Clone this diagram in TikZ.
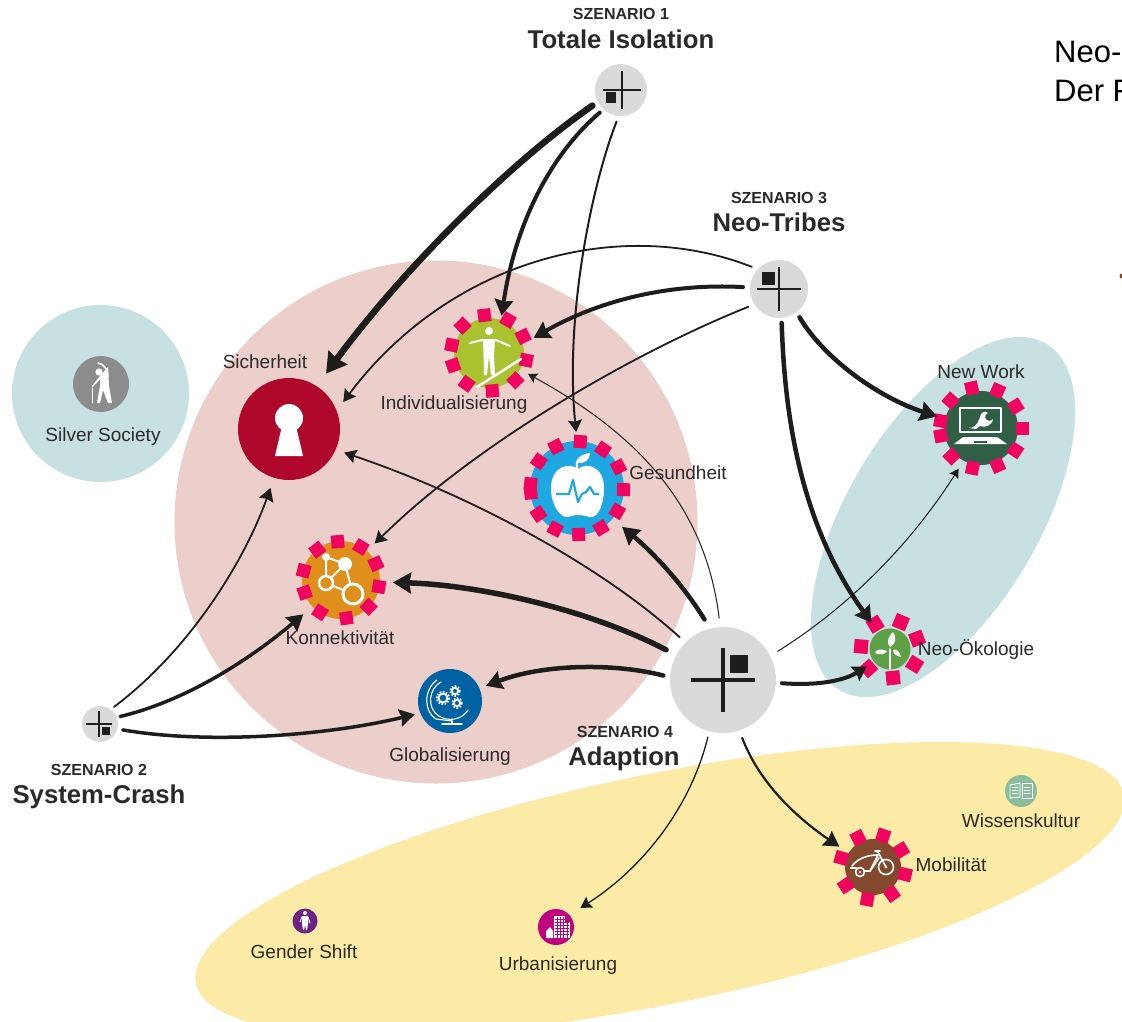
\documentclass[tikz,border=0pt]{standalone}
\usepackage{fontspec}
\setmainfont{Liberation Sans}
\usetikzlibrary{arrows.meta}
\definecolor{tint}{HTML}{C7E0E2}
\definecolor{rose}{HTML}{ECCFCB}
\definecolor{sand}{HTML}{FBEBA6}
\definecolor{ink}{HTML}{1D1D1B}
\definecolor{txt}{HTML}{2B2A29}
\definecolor{greyc}{HTML}{D9DADA}
\definecolor{spike}{HTML}{F0045F}
\definecolor{cred}{HTML}{B0082B}
\definecolor{cblue}{HTML}{1EA7E0}
\definecolor{cgold}{HTML}{DF8F1B}
\definecolor{clime}{HTML}{A9C230}
\definecolor{cforest}{HTML}{2F6045}
\definecolor{cleaf}{HTML}{5DA046}
\definecolor{cbrown}{HTML}{84482E}
\definecolor{cglobe}{HTML}{0061A3}
\definecolor{cmag}{HTML}{BF007F}
\definecolor{cpurp}{HTML}{6E2286}
\definecolor{cmint}{HTML}{8BBD9D}
\definecolor{cgrey}{HTML}{8C8C8C}
\tikzset{
  disk/.style={circle,inner sep=0pt,outer sep=0pt,draw=none},
  lab/.style={anchor=base,inner sep=0pt,text=txt,font=\fontsize{19}{22}\selectfont},
  kick/.style={anchor=base,inner sep=0pt,text=txt,font=\fontsize{16}{18}\selectfont\bfseries},
  head/.style={anchor=base,inner sep=0pt,text=txt,font=\fontsize{25.7}{28}\selectfont\bfseries},
  note/.style={anchor=base west,inner sep=0pt,text=black,font=\fontsize{31}{36}\selectfont},
  conn/.style n args={2}{draw=ink,line width=#1,line cap=round,-{Stealth[length=#2,width'=0pt 1.15,inset=1.5pt]}},
  wl/.style={draw=white,line cap=round,line join=round},
  scn/.style={draw=ink,line width=#1},
}
\newcommand\spikes[5]{\foreach \a in {#5}{\fill[spike,shift={(#1,#2)},rotate=\a] ({#3-#4/2},{-#4/2}) rectangle ({#3+#4/2},{#4/2});}}
\newcommand\cross[4]{% x y halflength width
  \draw[scn=#4] (#1-#3,#2) -- (#1+#3,#2);
  \draw[scn=#4] (#1,#2-#3) -- (#1,#2+#3);
}
\begin{document}
\begin{tikzpicture}[x=1pt,y=-1pt]
\useasboundingbox (0,0) rectangle (1122,1021);
\clip (0,0) rectangle (1122,1021);
% regions
\fill[rose] (436,522) circle (261.5);
\fill[tint] (100.5,393.5) circle (88.5);
\fill[tint,shift={(943,517)},rotate=59.2] (0,0) ellipse (201.7 and 95.7);
\fill[sand,shift={(660,889)},rotate=11.5] (0,0) ellipse (473.5 and 115);
% scenario nodes
\node[disk,fill=greyc,minimum size=52pt] (s1) at (621,90) {};
\node[disk,fill=greyc,minimum size=58pt] (s3) at (779,289) {};
\node[disk,fill=greyc,minimum size=106pt] (s4) at (723,680) {};
\node[disk,fill=greyc,minimum size=36pt] (s2) at (100,724) {};
\cross{622}{90}{19}{1.8}
\fill[ink] (606,92) rectangle (616,103);
\cross{779}{289}{22}{2}
\fill[ink] (762,272) rectangle (775,285);
\cross{723}{680}{32}{4}
\fill[ink] (730,655) rectangle (748,673);
\cross{99}{724}{13}{1.6}
\fill[ink] (102,727) rectangle (110,735);
% topic nodes
\node[disk,fill=cred,minimum size=102pt] (sich) at (289,429) {};
\node[disk,fill=clime,minimum size=70pt] (indi) at (489,353) {};
\node[disk,fill=cblue,minimum size=94pt] (ges) at (577,488) {};
\node[disk,fill=cgold,minimum size=78pt] (konn) at (341,580) {};
\node[disk,fill=cforest,minimum size=74pt] (nw) at (981,428) {};
\node[disk,fill=cleaf,minimum size=41pt] (oeko) at (890,649) {};
\node[disk,fill=cbrown,minimum size=56pt] (mob) at (873,867) {};
\node[disk,fill=cglobe,minimum size=64pt] (glob) at (450,701) {};
\node[disk,fill=cmag,minimum size=36pt] (urb) at (556,927) {};
\node[disk,fill=cpurp,minimum size=25pt] (gend) at (305,921) {};
\node[disk,fill=cmint,minimum size=32pt] (wiss) at (1021,791) {};
\node[disk,fill=cgrey,minimum size=56pt] (silv) at (101,384) {};
% spikes
\spikes{489}{353}{38}{13}{97,60,26,-11,-46,-85,-126,-161,168,134}
\spikes{577}{488}{46.5}{13}{86,56,27,-2,-30,-59,-88,-118,-146,175,186,145,117}
\spikes{341}{580}{38.5}{13}{95,59,25,-10,-44,-82,-123,-161,166,128}
\spikes{981}{428}{41}{13}{103,66,32,0,-33,-66,-102,-136,170,191,138}
\spikes{890}{649}{29}{14}{121,68,21,-32,-84,-138,175}
\spikes{873}{867}{33}{13}{72,31,-13,-55,-100,-146,164,117}
% icons
\fill[white] (289,418) circle (14);
\fill[white] (282,426) -- (296,426) -- (303,456) -- (275,456) -- cycle;
% walker
\fill[white] (489,331) circle (4);
\draw[wl,line width=2] (470,343) -- (482,340) -- (496,340) -- (510,346);
\fill[white] (483,339) -- (495,339) -- (494,356) -- (495,375) -- (491,375) -- (489,356) -- (487,375) -- (484,375) -- cycle;
\draw[wl,line width=2.5] (477,387) -- (521,359);
% apple
\fill[white] (578,469) .. controls (570,462) and (551,466) .. (551,488) .. controls (551,505) and (560,518) .. (568,517) .. controls (572,516) and (574,515) .. (578,515) .. controls (582,515) and (586,516) .. (590,517) .. controls (598,518) and (604,505) .. (604,488) .. controls (604,466) and (586,462) .. (578,469) -- cycle;
\fill[white] (576,468) .. controls (574,458) and (582,454) .. (590,453) .. controls (590,460) and (584,464) .. (578,463) -- (578,469) -- cycle;
\draw[draw=cblue,line width=2.2,line join=round] (556,494) -- (569,494) -- (573,480) -- (578,502) -- (582,494) -- (586,492) -- (590,487) -- (594,494) -- (599,494);
% network
\draw[wl,line width=2] (326,557) -- (345,564) -- (326,583) -- (326,557);
\draw[wl,line width=2] (345,564) -- (353,594) -- (326,583);
\fill[white] (326,557) circle (4);
\fill[white] (345,564) circle (7);
\draw[wl,line width=2.5,fill=cgold] (326,583) circle (7);
\draw[wl,line width=3,fill=cgold] (353,594) circle (10);
% laptop
\draw[wl,line width=1.5] (960,408) rectangle (1001,432);
\fill[white] (963,437) -- (997,437) -- (1007,444) -- (954,444) -- cycle;
\fill[cforest] (974,441) rectangle (987,443);
\fill[white] (969,428) .. controls (977,428) and (979,420) .. (981,414) .. controls (984,411) and (987,411) .. (988,413) .. controls (984,414) and (984,420) .. (989,421) .. controls (991,421) and (992,420) .. (993,419) .. controls (992,426) and (984,428) .. (980,426) -- (976,429) -- cycle;
% turbine
\draw[wl,line width=1.4] (890,649) -- (890,669);
\fill[white] (890,647) .. controls (885,641) and (890,635) .. (893,632) .. controls (897,637) and (896,644) .. (890,647) -- cycle;
\fill[white] (887,651) .. controls (881,648) and (875,650) .. (875,653) .. controls (879,655) and (885,655) .. (887,651) -- cycle;
\fill[white] (893,650) .. controls (896,648) and (900,652) .. (901,657) .. controls (897,656) and (893,654) .. (893,650) -- cycle;
% bike
\draw[wl,line width=1.6] (886,867) circle (7.5);
\fill[white] (886,867) circle (1.5);
\draw[wl,line width=1.6] (860,872) circle (4.5);
\fill[white] (860,872) circle (1.2);
\draw[wl,line width=1.6] (886,867) -- (878,852) -- (875,851) -- (880,851);
\draw[wl,line width=1.6] (852,866) .. controls (858,858) and (868,855) .. (878,855) -- (870,871) -- (864,871);
\draw[wl,line width=1.6] (879,858) -- (870,871);
\draw[wl,line width=2.5] (851,868) -- (856,868);
% globe
\draw[wl,line width=1.1] (441,682) .. controls (429,688) and (426,708) .. (439,716) .. controls (448,722) and (462,720) .. (468,710);
\draw[wl,line width=1.1] (437,680) .. controls (423,690) and (424,712) .. (436,719) -- (452,721);
\draw[wl,line width=1.4] (442,724) -- (462,724);
\draw[wl,line width=1.4] (452,721) -- (452,724);
\foreach \gx/\gy/\gr in {443/698/4.5, 455/691/3.2, 457/703/3.2}{
  \draw[wl,line width=1.8] (\gx,\gy) circle (\gr);
  \draw[draw=white,line width=1.8,dash pattern=on 1.6pt off 1.6pt] (\gx,\gy) circle (\gr+1.7);
}
% building
\fill[white] (554,916) rectangle (565,938);
\fill[white] (565,922) rectangle (570,938);
\fill[white] (546,938) -- (546,931) -- (550,927) -- (553,931) -- (553,938) -- cycle;
\foreach \ry in {919,922,925,928,931,934}{\draw[cmag,line width=0.7] (555,\ry) -- (569,\ry);}
\foreach \rx in {557,560,563,567}{\draw[cmag,line width=0.7] (\rx,917) -- (\rx,938);}
% person
\fill[white] (305,913) circle (2);
\fill[white] (302,916) -- (308,916) -- (308,924) -- (307,930) -- (306,930) -- (305,925) -- (304,930) -- (303,930) -- (302,924) -- cycle;
\draw[wl,line width=0.9] (302,917) -- (300,922);
\draw[wl,line width=0.9] (308,917) -- (310,923);
% books
\draw[wl,line width=0.9] (1010,785) -- (1020,783) -- (1020,797) -- (1010,798) -- cycle;
\draw[wl,line width=0.9] (1022,783) rectangle (1032,798);
\foreach \by in {787,790,793}{\draw[wl,line width=0.5] (1012,\by) -- (1018,\by); \draw[wl,line width=0.5] (1024,\by) -- (1030,\by);}
% exerciser
\fill[white] (99,372) circle (3.6);
\draw[wl,line width=1.6] (98,363) .. controls (104,364) and (108,370) .. (108,376);
\fill[white] (108,367) -- (109,386) -- (112,403) -- (108,403) -- (103,390) -- (100,403) -- (97,403) -- (100,386) -- (100,379) -- (93,387) -- (92,386) -- (100,376) -- cycle;
\draw[wl,line width=1] (92,388) -- (92,403);
% connectors
\draw[conn={6.5pt}{20pt},shorten <=6.6pt,shorten >=15.6pt] (s1.207) .. controls (500,170) and (395,280) .. (sich.57);
\draw[conn={4pt}{16pt},shorten <=5.1pt,shorten >=4.4pt] (s1.228) .. controls (550,155) and (515,225) .. (indi.70);
\draw[conn={2pt}{12pt},shorten <=6pt,shorten >=9pt] (s1.265) .. controls (590,190) and (565,320) .. (ges.90);
\draw[conn={1.8pt}{12pt},shorten <=6.4pt,shorten >=11pt] (s3.137) .. controls (620,215) and (450,260) .. (sich.21);
\draw[conn={4pt}{16pt},shorten <=7pt,shorten >=12.5pt] (s3.177) .. controls (670,283) and (600,300) .. (indi.15);
\draw[conn={1.8pt}{12pt},shorten <=6.5pt,shorten >=10.6pt] (s3.212) .. controls (640,350) and (480,440) .. (konn.48);
\draw[conn={4.5pt}{17pt},shorten <=6pt,shorten >=8.4pt] (s3.-53) .. controls (825,360) and (880,398) .. (nw.166);
\draw[conn={4.5pt}{16pt},shorten <=5pt,shorten >=11.6pt] (s3.-85) .. controls (785,430) and (805,530) .. (oeko.125);
\draw[conn={1pt}{9pt},shorten <=9pt,shorten >=9.3pt] (s4.93) .. controls (705,500) and (630,430) .. (indi.-28);
\draw[conn={4.5pt}{17pt},shorten <=10.8pt,shorten >=12.5pt] (s4.104) .. controls (680,580) and (650,550) .. (ges.-41);
\draw[conn={1.8pt}{12pt},shorten <=7.8pt,shorten >=9pt] (s4.135) .. controls (600,565) and (470,495) .. (sich.-24);
\draw[conn={5.5pt}{18pt},shorten <=11.4pt,shorten >=13pt] (s4.152) .. controls (590,610) and (480,585) .. (konn.-3);
\draw[conn={4.5pt}{16pt},shorten <=7pt,shorten >=7pt] (s4.177) .. controls (610,662) and (540,665) .. (glob.23);
\draw[conn={4pt}{14pt},shorten <=6pt,shorten >=8.4pt] (s4.-3) .. controls (820,686) and (845,680) .. (oeko.219);
\draw[conn={1pt}{9pt},shorten <=8.7pt,shorten >=9.5pt] (s4.27) .. controls (860,600) and (920,530) .. (nw.242);
\draw[conn={1.3pt}{11pt},shorten <=6pt,shorten >=13pt] (s4.255) .. controls (690,810) and (640,870) .. (urb.42);
\draw[conn={2.2pt}{15pt},shorten <=8pt,shorten >=11.4pt] (s4.-72) .. controls (760,785) and (800,820) .. (mob.150);
\draw[conn={1.8pt}{13pt},shorten <=4.2pt,shorten >=10.7pt] (s2.54) .. controls (190,650) and (245,560) .. (sich.253);
\draw[conn={3.5pt}{16pt},shorten <=3.5pt,shorten >=11.9pt] (s2.22) .. controls (190,700) and (255,655) .. (konn.223);
\draw[conn={3.5pt}{15pt},shorten <=5.5pt,shorten >=5.7pt] (s2.-16) .. controls (210,745) and (330,735) .. (glob.202);
% texts
\node[kick] (k1) at (621,19) {SZENARIO 1};
\node[head] (h1) at (621,48) {Totale Isolation};
\node[kick] (k3) at (779,203) {SZENARIO 3};
\node[head] (h3) at (779,231) {Neo-Tribes};
\node[kick] (k4) at (625,737) {SZENARIO 4};
\node[head] (h4) at (624,765) {Adaption};
\node[kick] (k2) at (99,775) {SZENARIO 2};
\node[head] (h2) at (99,803) {System-Crash};
\node[lab] (t1) at (265,368) {Sicherheit};
\node[lab] (t2) at (454,409) {Individualisierung};
\node[lab] (t3) at (678,479) {Gesundheit};
\node[lab] (t4) at (340,644) {Konnektivität};
\node[lab] (t5) at (450,761) {Globalisierung};
\node[lab] (t6) at (103,441) {Silver Society};
\node[lab] (t7) at (981,378) {New Work};
\node[lab] (t8) at (976,655) {Neo-Ökologie};
\node[lab] (t9) at (951,871) {Mobilität};
\node[lab] (t10) at (1021,827) {Wissenskultur};
\node[lab] (t11) at (558,970) {Urbanisierung};
\node[lab] (t12) at (304,958) {Gender Shift};
\node[note] (n1) at (1054,62) {Neo-};
\node[note] (n2) at (1054,101) {Der F};
\fill[cbrown] (1122,276) circle (2.5);
\end{tikzpicture}
\end{document}
